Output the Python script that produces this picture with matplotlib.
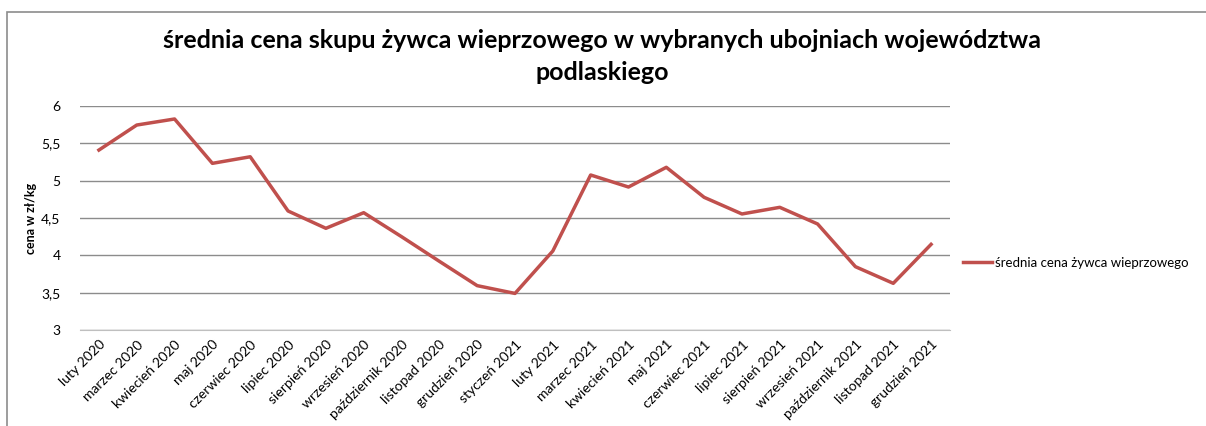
import matplotlib
matplotlib.use("Agg")
import matplotlib.pyplot as plt
from matplotlib.patches import Rectangle
from matplotlib.ticker import FuncFormatter

months = ["luty 2020", "marzec 2020", "kwiecień 2020", "maj 2020", "czerwiec 2020",
          "lipiec 2020", "sierpień 2020", "wrzesień 2020", "październik 2020",
          "listopad 2020", "grudzień 2020", "styczeń 2021", "luty 2021", "marzec 2021",
          "kwiecień 2021", "maj 2021", "czerwiec 2021", "lipiec 2021", "sierpień 2021",
          "wrzesień 2021", "październik 2021", "listopad 2021", "grudzień 2021"]
prices = [5.41, 5.745, 5.826, 5.232, 5.32, 4.594, 4.362, 4.571, 4.25,
          3.92, 3.594, 3.49, 4.058, 5.076, 4.915, 5.179, 4.777, 4.554,
          4.643, 4.42, 3.848, 3.625, 4.147]
yticks = [3, 3.5, 4, 4.5, 5, 5.5, 6]

plt.rcParams["font.family"] = ["Lato", "DejaVu Sans"]

W, H = 1206, 426
fig = plt.figure(figsize=(W / 100, H / 100), dpi=100)
fig.patches.append(Rectangle((7 / W, -0.1), 1.2, 1 - 12 / H + 0.1, transform=fig.transFigure,
                             fill=False, edgecolor="#8c8c8c", linewidth=1.2))

ax = fig.add_axes([80 / W, 1 - 330 / H, 870 / W, 224 / H])
x = range(len(months))
ax.plot(x, prices, color="#C0504D", linewidth=2.5, label="średnia cena żywca wieprzowego")
ax.set_xlim(-0.5, len(months) - 0.5)
ax.set_ylim(3, 6)
ax.set_yticks(yticks)
ax.yaxis.set_major_formatter(FuncFormatter(lambda v, p: f"{v:g}".replace(".", ",")))
ax.set_xticks(list(x))
ax.set_xticklabels(months, rotation=45, ha="right", rotation_mode="anchor", fontsize=10)
ax.tick_params(length=0, labelsize=10, colors="#000000")
ax.tick_params(axis="x", pad=6)
ax.tick_params(axis="y", pad=14)
ax.grid(axis="y", color="#8c8c8c", linewidth=1)
for s in ["top", "right", "left"]:
    ax.spines[s].set_visible(False)
ax.spines["bottom"].set_color("#bfbfbf")
ax.set_axisbelow(True)
ax.set_ylabel("cena w zł/kg", fontsize=9, fontweight="bold")
ax.yaxis.set_label_coords(-43 / 870, 0.5)

fig.text(602 / W, 1 - 40 / H, "średnia cena skupu żywca wieprzowego w wybranych ubojniach województwa",
         ha="center", va="center", fontsize=18, fontweight="bold")
fig.text(602 / W, 1 - 72 / H, "podlaskiego", ha="center", va="center", fontsize=18, fontweight="bold")

ax.legend(loc="center left", bbox_to_anchor=(958 / W, 1 - 263 / H), bbox_transform=fig.transFigure,
          frameon=False, fontsize=9.5, handlelength=2.2, handletextpad=0.2, borderaxespad=0)

fig.savefig("out.png", dpi=100)
